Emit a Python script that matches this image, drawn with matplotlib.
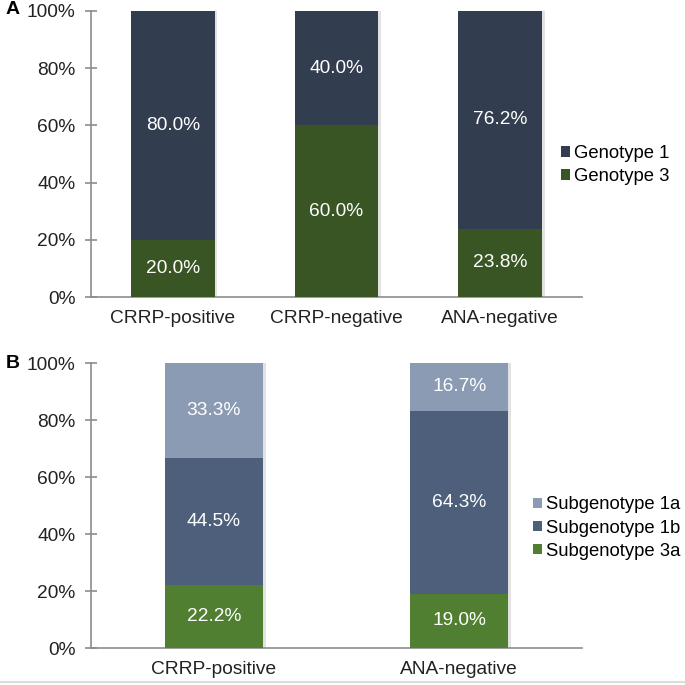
import matplotlib.pyplot as plt
from matplotlib.lines import Line2D
import numpy as np

plt.rcParams["font.family"] = ["Liberation Sans", "DejaVu Sans"]

# ─── Data ─────────────────────────────────────────────────────────────────────

groups_a    = ["CRRP-positive", "CRRP-negative", "ANA-negative"]
genotype_1  = [80.0, 40.0, 76.2]
genotype_3  = [20.0, 60.0, 23.8]

groups_b    = ["CRRP-positive", "ANA-negative"]
subgeno_1a  = [33.3, 16.7]
subgeno_1b  = [44.5, 64.3]
subgeno_3a  = [22.2, 19.0]

AXIS_GREY = "#8c8c8c"
TEXT_COL  = "#222222"
FS        = 13.8


def style_axis(ax, n):
    ax.set_xlim(-0.5, n - 0.5)
    ax.set_ylim(0, 100)
    ax.set_yticks([0, 20, 40, 60, 80, 100])
    ax.set_yticklabels([f"{v}%" for v in range(0, 101, 20)])
    for side in ["top", "right"]:
        ax.spines[side].set_visible(False)
    for side in ["left", "bottom"]:
        ax.spines[side].set_color(AXIS_GREY)
        ax.spines[side].set_linewidth(1.2)
    ax.tick_params(axis="y", direction="inout", length=8, width=1.2,
                   color=AXIS_GREY, labelsize=FS, labelcolor=TEXT_COL, pad=7)
    ax.tick_params(axis="x", length=0, labelsize=FS, labelcolor=TEXT_COL, pad=9)


def stack(ax, x, series, colors, labels, width):
    bottom = np.zeros(len(x))
    handles = []
    # faint shadow on the right side of each bar
    ax.bar(x + 0.006 * len(x), np.sum(series, axis=0), width, color="#e2e2e2",
           zorder=2, linewidth=0)
    for vals, col, lab in zip(series, colors, labels):
        vals = np.array(vals)
        bars = ax.bar(x, vals, width, bottom=bottom, color=col, label=lab,
                      zorder=3, linewidth=0)
        for xi, b, v in zip(x, bottom, vals):
            ax.text(xi, b + v / 2, f"{v:.1f}%", ha="center", va="center",
                    color="white", fontsize=FS, zorder=4)
        bottom += vals
        handles.append(bars)
    return handles


def add_legend(ax, handles, x, y):
    ax.legend(handles=handles, loc="center left", bbox_to_anchor=(x, y),
              frameon=False, fontsize=13.3, handlelength=0.5, handleheight=0.5,
              handletextpad=0.2, labelspacing=0.33, borderpad=0,
              borderaxespad=0)


fig = plt.figure(figsize=(6.85, 6.85), dpi=100)

# ─── Panel A ─────────────────────────────────────────────────────────────────

ax_a = fig.add_axes([0.1328, 0.5664, 0.7168, 0.4176])
xa = np.arange(len(groups_a))
ha = stack(ax_a, xa, [genotype_3, genotype_1], ["#3a5524", "#333d50"],
           ["Genotype 3", "Genotype 1"], 0.51)
style_axis(ax_a, len(groups_a))
ax_a.set_xticks(xa)
ax_a.set_xticklabels(groups_a)
add_legend(ax_a, ha[::-1], 0.957, 0.462)
fig.text(0.008, 0.986, "A", fontsize=14, fontweight="bold", va="center")

# ─── Panel B ─────────────────────────────────────────────────────────────────

ax_b = fig.add_axes([0.1328, 0.054, 0.7168, 0.416])
xb = np.arange(len(groups_b))
hb = stack(ax_b, xb, [subgeno_3a, subgeno_1b, subgeno_1a],
           ["#517f31", "#4d5f7a", "#8a9bb3"],
           ["Subgenotype 3a", "Subgenotype 1b", "Subgenotype 1a"], 0.4)
style_axis(ax_b, len(groups_b))
ax_b.set_xticks(xb)
ax_b.set_xticklabels(groups_b)
add_legend(ax_b, hb[::-1], 0.9, 0.421)
fig.text(0.008, 0.470, "B", fontsize=14, fontweight="bold", va="center")

# light separator at the bottom edge
fig.add_artist(Line2D([0, 1], [0.005, 0.005], color="#dddddd", lw=1.5))

fig.savefig("out.png", dpi=100, facecolor="white")
